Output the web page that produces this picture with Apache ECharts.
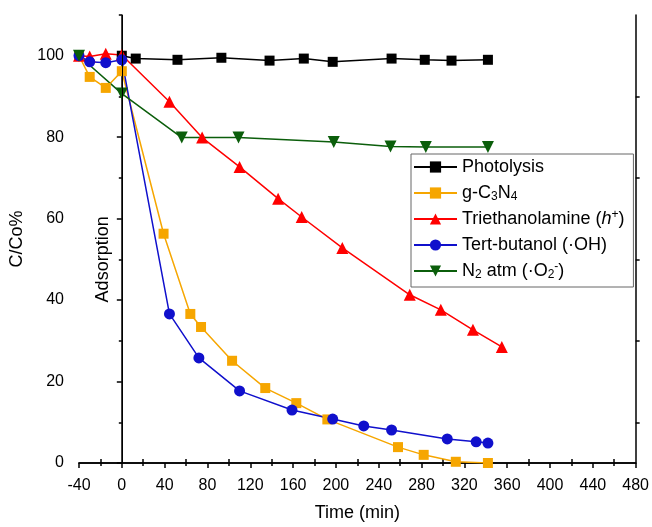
<!DOCTYPE html>
<html>
<head>
<meta charset="utf-8">
<script src="https://cdn.jsdelivr.net/npm/echarts@6/dist/echarts.min.js"></script>
<style>
html,body{margin:0;padding:0;background:#fff;}
#chart{width:652px;height:527px;}
</style>
</head>
<body>
<div id="chart"></div>
<script>
// ---- data ----
const seriesNames = ['Photolysis', 'g-C3N4', 'Triethanolamine (h+)', 'Tert-butanol (·OH)', 'N2 atm (·O2-)'];

const photolysisTime = [0, 13, 52, 93, 138, 170, 197, 252, 283, 308, 342];
const photolysisVal  = [100, 99.3, 99, 99.5, 98.8, 99.3, 98.5, 99.3, 99, 98.8, 99];

const gc3n4Time = [-40, -30, -15, 0, 39, 64, 74, 103, 134, 163, 192, 258, 282, 312, 342];
const gc3n4Val  = [100, 94.8, 92.1, 96.2, 56.3, 36.6, 33.4, 25.1, 18.4, 14.7, 10.7, 3.9, 2.0, 0.3, 0];

const teoaTime = [-40, -30, -15, 0, 44.5, 75, 110, 146, 168, 206, 269, 298, 328, 355];
const teoaVal  = [100, 99.8, 100.5, 100.2, 88.7, 79.9, 72.7, 64.9, 60.4, 52.8, 41.3, 37.6, 32.7, 28.5];

const tbaTime = [-40, -30, -15, 0, 44.5, 72, 110, 159, 197, 226, 252, 304, 331, 342];
const tbaVal  = [100, 98.5, 98.3, 99, 36.6, 25.8, 17.7, 13, 10.8, 9.1, 8.1, 5.9, 5.2, 4.9];

const n2Time = [-40, 0, 56, 109, 198, 251, 284, 342];
const n2Val  = [100, 90.7, 79.9, 79.9, 78.8, 77.7, 77.6, 77.6];

const xTicks = {min: -40, max: 480, interval: 40};
const yTicks = {min: 0, max: 110, interval: 20};
const adsorptionLabel = {text: 'Adsorption', x: 0, y: 50};

// ---- chart ----
const FONT = '"Liberation Sans", Arial, sans-serif';
const zip = (a, b) => a.map((v, i) => [v, b[i]]);

const chart = echarts.init(document.getElementById('chart'), null, {renderer: 'canvas'});

const legendRich = {
  sub: {fontSize: 12, lineHeight: 12, verticalAlign: 'bottom', fontFamily: FONT, color: '#000'},
  sup: {fontSize: 12, lineHeight: 12, verticalAlign: 'top', fontFamily: FONT, color: '#000'},
  it:  {fontSize: 18, lineHeight: 20, fontStyle: 'italic', fontFamily: FONT, color: '#000'}
};
const legendFmt = {
  'Photolysis': 'Photolysis',
  'g-C3N4': 'g-C{sub|3}N{sub|4}',
  'Triethanolamine (h+)': 'Triethanolamine ({it|h}{sup|+})',
  'Tert-butanol (·OH)': 'Tert-butanol (·OH)',
  'N2 atm (·O2-)': 'N{sub|2} atm (·O{sub|2}{sup|-})'
};

function mk(name, time, val, color, symbol, size, rotate) {
  return {
    name: name,
    type: 'line',
    data: zip(time, val),
    symbol: symbol,
    symbolSize: size,
    symbolRotate: rotate || 0,
    showSymbol: true,
    xAxisIndex: 0,
    yAxisIndex: 0,
    lineStyle: {color: color, width: 1.5},
    itemStyle: {color: color},
    emphasis: {disabled: true},
    animation: false,
    z: 3
  };
}

const series = [
  mk(seriesNames[0], photolysisTime, photolysisVal, '#000000', 'rect', 10),
  mk(seriesNames[1], gc3n4Time, gc3n4Val, '#F6A600', 'rect', 10),
  mk(seriesNames[2], teoaTime, teoaVal, '#FF0000', 'triangle', 12),
  mk(seriesNames[3], tbaTime, tbaVal, '#1010CC', 'circle', 11),
  mk(seriesNames[4], n2Time, n2Val, '#0B5E0B', 'triangle', 12, 180)
];
series[0].markLine = {
  silent: true,
  symbol: 'none',
  label: {show: false},
  lineStyle: {color: '#000', width: 1, type: 'solid'},
  data: [{xAxis: 0}],
  animation: false
};

const axisLineStyle = {lineStyle: {color: '#000', width: 1.5}};
const labelStyle = {color: '#000', fontSize: 16, fontFamily: FONT};

const option = {
  backgroundColor: '#fff',
  animation: false,
  grid: {left: 79, right: 15, top: 15, bottom: 63, containLabel: false},
  legend: {
    data: seriesNames,
    orient: 'vertical',
    left: 411,
    top: 154,
    itemWidth: 43,
    itemHeight: 14,
    itemGap: 6,
    padding: [3, 9, 6, 2],
    borderColor: '#666',
    borderWidth: 1,
    selectedMode: false,
    textStyle: {fontSize: 18, lineHeight: 20, fontFamily: FONT, color: '#000', rich: legendRich},
    formatter: n => legendFmt[n]
  },
  xAxis: [
    {
      type: 'value', position: 'bottom',
      min: xTicks.min, max: xTicks.max, interval: xTicks.interval,
      name: 'Time (min)', nameLocation: 'middle', nameGap: 41,
      nameTextStyle: {color: '#000', fontSize: 18, fontFamily: FONT},
      axisLine: axisLineStyle,
      axisTick: {show: true, inside: false, length: 5, lineStyle: {color: '#000', width: 1.5}},
      minorTick: {show: true, splitNumber: 2, length: 3, lineStyle: {color: '#000', width: 1.5}},
      axisLabel: Object.assign({margin: 15}, labelStyle),
      splitLine: {show: false}
    },
    {
      type: 'value', position: 'top',
      min: xTicks.min, max: xTicks.max, interval: xTicks.interval,
      axisLine: axisLineStyle,
      axisTick: {show: false},
      minorTick: {show: true, splitNumber: 2, length: 4, lineStyle: {color: '#000', width: 1.5}},
      axisLabel: {show: false},
      splitLine: {show: false}
    }
  ],
  yAxis: [
    {
      type: 'value', position: 'left',
      min: yTicks.min, max: yTicks.max, interval: yTicks.interval,
      name: 'C/Co%', nameLocation: 'middle', nameGap: 52,
      nameTextStyle: {color: '#000', fontSize: 18, fontFamily: FONT},
      axisLine: axisLineStyle,
      axisTick: {show: true, inside: false, length: 5, lineStyle: {color: '#000', width: 1.5}},
      axisLabel: Object.assign({margin: 15, showMaxLabel: false}, labelStyle),
      splitLine: {show: false}
    },
    {
      type: 'value', position: 'left',
      min: yTicks.min, max: yTicks.max, interval: yTicks.interval / 2,
      axisLine: {show: false},
      axisTick: {show: true, inside: false, length: 3, lineStyle: {color: '#000', width: 1.5}},
      axisLabel: {show: false},
      splitLine: {show: false}
    },
    {
      type: 'value', position: 'right',
      min: yTicks.min, max: yTicks.max, interval: yTicks.interval,
      axisLine: axisLineStyle,
      axisTick: {show: false},
      minorTick: {show: true, splitNumber: 2, length: 4, lineStyle: {color: '#000', width: 1.5}},
      axisLabel: {show: false},
      splitLine: {show: false}
    }
  ],
  series: series
};
chart.setOption(option);

const p = chart.convertToPixel({xAxisIndex: 0, yAxisIndex: 0}, [adsorptionLabel.x, adsorptionLabel.y]);
chart.setOption({
  graphic: [{
    type: 'text',
    x: p[0] - 19,
    y: p[1],
    rotation: Math.PI / 2,
    style: {
      text: adsorptionLabel.text,
      fill: '#000',
      font: '18px ' + FONT,
      align: 'center',
      verticalAlign: 'middle'
    },
    silent: true
  }]
});
</script>
</body>
</html>
